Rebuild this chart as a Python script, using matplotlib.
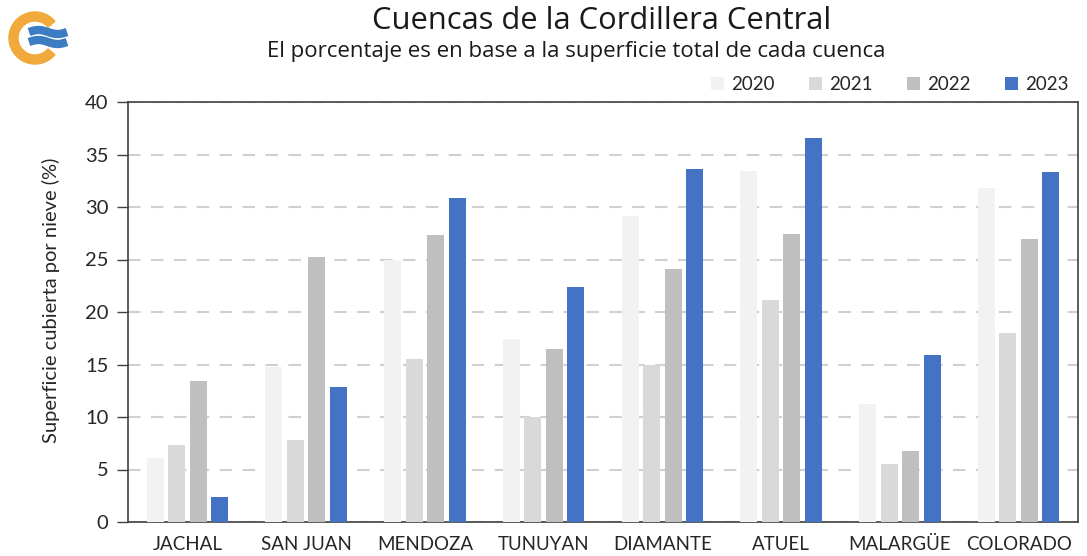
import matplotlib
matplotlib.use("Agg")
import matplotlib.pyplot as plt
import numpy as np
from matplotlib.patches import Wedge

categories = ["JACHAL", "SAN JUAN", "MENDOZA", "TUNUYAN", "DIAMANTE", "ATUEL", "MALARGÜE", "COLORADO"]
years = ["2020", "2021", "2022", "2023"]
v2020 = [6.1, 14.8, 25.0, 17.4, 29.1, 33.4, 11.2, 31.8]
v2021 = [7.3, 7.8, 15.5, 10.0, 15.0, 21.1, 5.5, 18.0]
v2022 = [13.4, 25.2, 27.3, 16.5, 24.1, 27.4, 6.8, 27.0]
v2023 = [2.4, 12.9, 30.9, 22.4, 33.6, 36.6, 15.9, 33.3]
series = [v2020, v2021, v2022, v2023]
colors = ["#F2F2F2", "#D9D9D9", "#BFBFBF", "#4472C4"]

plt.rcParams['font.family'] = ['Lato', 'DejaVu Sans']

fig = plt.figure(figsize=(10.87, 5.56), dpi=100)
W, H = 1087, 556
ax = fig.add_axes([128 / W, 1 - 522 / H, (1078 - 128) / W, (522 - 102) / H])

x = np.arange(len(categories))
bw = 0.145
step = 0.181
for k, (vals, c) in enumerate(zip(series, colors)):
    ax.bar(x + (k - 1.5) * step, vals, width=bw, color=c, zorder=3, label=years[k])

ax.set_xlim(-0.5, len(categories) - 0.5)
ax.set_ylim(0, 40)
ax.set_yticks(np.arange(0, 41, 5))
ax.set_xticks(x)
ax.set_xticklabels(categories, fontsize=13.5)
ax.tick_params(axis='y', labelsize=14.5, length=8, width=1, color='#404040', pad=6)
ax.tick_params(axis='x', length=0, pad=10)
for lab in ax.get_yticklabels():
    lab.set_color('#262626')
for lab in ax.get_xticklabels():
    lab.set_color('#262626')
ax.yaxis.grid(True, linestyle=(0, (6, 5)), color='#D0D0D0', linewidth=1.5, zorder=0)
for sp in ax.spines.values():
    sp.set_color('#404040')
    sp.set_linewidth(1.2)
ax.set_ylabel("Superficie cubierta por nieve (%)", fontsize=14.5, color='#262626')
ax.yaxis.set_label_coords(-0.072, 0.529)

leg = ax.legend(loc='lower right', bbox_to_anchor=(1.0, 1.0), ncol=4, frameon=False,
                fontsize=13.5, handlelength=0.7, handleheight=0.7, handletextpad=0.4,
                columnspacing=1.8, borderaxespad=0.1)
for t in leg.get_texts():
    t.set_color('#262626')

fig.text(602 / W, 1 - 21 / H, "Cuencas de la Cordillera Central", ha='center', va='center',
         fontsize=22.2, color='#1a1a1a', family=['Open Sans', 'DejaVu Sans'])
fig.text(576 / W, 1 - 52 / H, "El porcentaje es en base a la superficie total de cada cuenca",
         ha='center', va='center', fontsize=16, color='#1a1a1a', family=['Open Sans', 'DejaVu Sans'])

# logo
lax = fig.add_axes([0, 1 - 75 / H, 80 / W, 75 / H])
lax.set_xlim(0, 80)
lax.set_ylim(75, 0)
lax.axis('off')
lax.add_patch(Wedge((35, 38), 26, 40, 320, width=9, color='#F2A93B'))
t = np.linspace(0, 1, 60)
for yc in (32, 42):
    xs = 29 + 38 * t
    ys = yc - 2.0 * np.sin(2 * np.pi * t)
    lax.plot(xs, ys, color='#3B7CC2', linewidth=6, solid_capstyle='butt')

fig.savefig("out.png", dpi=100, facecolor='white')
